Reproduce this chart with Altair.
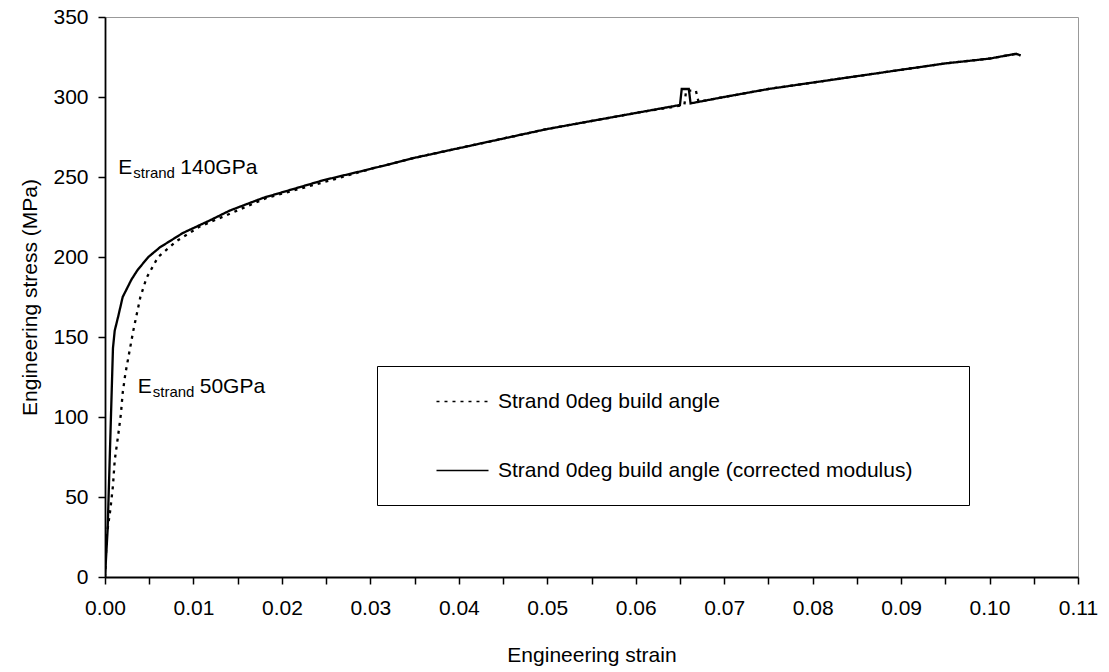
import altair as alt
import pandas as pd

# ---- data ----
series_names = ["Strand 0deg build angle", "Strand 0deg build angle (corrected modulus)"]

dot_strain = [0.0, 0.0002, 0.0006, 0.0009, 0.0011, 0.0015, 0.0018, 0.0020, 0.0023, 0.0032,
              0.0040, 0.0047, 0.0060, 0.0081, 0.0107, 0.0141, 0.0183, 0.0262, 0.0300, 0.0350,
              0.0400, 0.0450, 0.0500, 0.0550, 0.0600, 0.0655, 0.0657, 0.0668, 0.0671, 0.0700,
              0.0750, 0.0800, 0.0850, 0.0900, 0.0950, 0.1000, 0.1030, 0.1035]
dot_stress = [0, 26, 42, 57, 73, 89, 102, 115, 127, 154,
              175, 187, 200, 210, 219, 227, 237, 249, 255, 262,
              268, 274, 280, 285, 290, 295, 304, 304, 297, 300,
              305, 309, 313, 317, 321, 324, 327, 326]

solid_strain = [0.0, 0.0003, 0.0009, 0.0011, 0.0015, 0.0020, 0.0030, 0.0037, 0.0049, 0.0062,
                0.0088, 0.0119, 0.0141, 0.0179, 0.0247, 0.0300, 0.0350, 0.0400, 0.0450, 0.0500,
                0.0550, 0.0600, 0.0650, 0.0652, 0.0660, 0.0662, 0.0700, 0.0750, 0.0800, 0.0850,
                0.0900, 0.0950, 0.1000, 0.1030, 0.1035]
solid_stress = [0, 30, 143, 154, 163, 175, 186, 192, 200, 206,
                215, 223, 229, 237, 248, 255, 262, 268, 274, 280,
                285, 290, 295, 305, 305, 296, 300, 305, 309, 313,
                317, 321, 324, 327, 326]

ann_x = [0.0015, 0.0037]
ann_y = [252, 115]
ann_main = ["E", "E"]
ann_sub = ["strand", "strand"]
ann_val = ["140GPa", "50GPa"]

x_ticks = [round(i * 0.005, 3) for i in range(23)]
y_ticks = [i * 25 for i in range(15)]

FONT = "Liberation Sans"

rows = []
for s, v in zip(dot_strain, dot_stress):
    rows.append({"strain": s, "stress": v, "series": series_names[0]})
for s, v in zip(solid_strain, solid_stress):
    rows.append({"strain": s, "stress": v, "series": series_names[1]})
df = pd.DataFrame(rows)

ann = pd.DataFrame({"x": ann_x, "y": ann_y, "main": ann_main, "sub": ann_sub, "val": ann_val})

x_scale = alt.Scale(domain=[0, 0.11], nice=False, zero=True)
y_scale = alt.Scale(domain=[0, 350], nice=False, zero=True)

x_axis = alt.Axis(
    title="Engineering strain", values=x_ticks,
    labelExpr="(round(datum.value*1000) % 10 == 0) ? format(datum.value, '.2f') : ''",
    grid=False, tickSize=7, tickWidth=1.5, tickColor="black",
    domainColor="black", domainWidth=1.8,
    labelFont=FONT, labelFontSize=21, labelColor="black", labelPadding=13,
    titleFont=FONT, titleFontSize=21, titleFontWeight="normal", titleColor="black",
    titlePadding=26, labelFlush=False, labelOverlap=False,
)
y_axis = alt.Axis(
    title="Engineering stress (MPa)", values=y_ticks,
    labelExpr="(datum.value % 50 == 0) ? format(datum.value, 'd') : ''",
    grid=False, tickSize=7, tickWidth=1.5, tickColor="black",
    domainColor="black", domainWidth=1.8,
    labelFont=FONT, labelFontSize=21, labelColor="black", labelPadding=10,
    titleFont=FONT, titleFontSize=21, titleFontWeight="normal", titleColor="black",
    titlePadding=12, labelFlush=False, labelOverlap=False,
)

lines = alt.Chart(df).mark_line(color="black", strokeWidth=2.3, clip=True).encode(
    x=alt.X("strain:Q", scale=x_scale, axis=x_axis),
    y=alt.Y("stress:Q", scale=y_scale, axis=y_axis),
    strokeDash=alt.StrokeDash(
        "series:N",
        scale=alt.Scale(domain=series_names, range=[[3, 5], [1, 0]]),
        legend=alt.Legend(
            title=" ", titleOrient="right", titlePadding=33, titleFontSize=21,
            orient="none", legendX=272, legendY=349,
            symbolType="M-2.5,0H2.5", symbolSize=433, symbolStrokeWidth=1.5,
            symbolStrokeColor="black", symbolFillColor="transparent",
            symbolOffset=50,
            labelFont=FONT, labelFontSize=21, labelColor="black",
            labelOffset=24, labelLimit=1000, rowPadding=47,
            padding=24, strokeColor="black", fillColor="white",
        ),
    ),
    order=alt.Order("strain:Q"),
)

base_txt = alt.Chart(ann)
t_main = base_txt.mark_text(font=FONT, fontSize=21, align="left", baseline="alphabetic",
                            color="black").encode(
    x=alt.X("x:Q", scale=x_scale), y=alt.Y("y:Q", scale=y_scale), text="main:N")
t_sub = base_txt.mark_text(font=FONT, fontSize=15, align="left", baseline="alphabetic",
                           color="black", dx=15, dy=4).encode(
    x=alt.X("x:Q", scale=x_scale), y=alt.Y("y:Q", scale=y_scale), text="sub:N")
t_val = base_txt.mark_text(font=FONT, fontSize=21, align="left", baseline="alphabetic",
                           color="black", dx=62).encode(
    x=alt.X("x:Q", scale=x_scale), y=alt.Y("y:Q", scale=y_scale), text="val:N")

chart = alt.layer(lines, t_main, t_sub, t_val).properties(
    width=973, height=560,
    autosize=alt.AutoSizeParams(type="none"),
    padding={"left": 105, "top": 17, "right": 31, "bottom": 95},
    background="white",
).configure_view(stroke="#999999", strokeWidth=1)

chart.save("out.html", embed_options={"renderer": "svg", "actions": False})
